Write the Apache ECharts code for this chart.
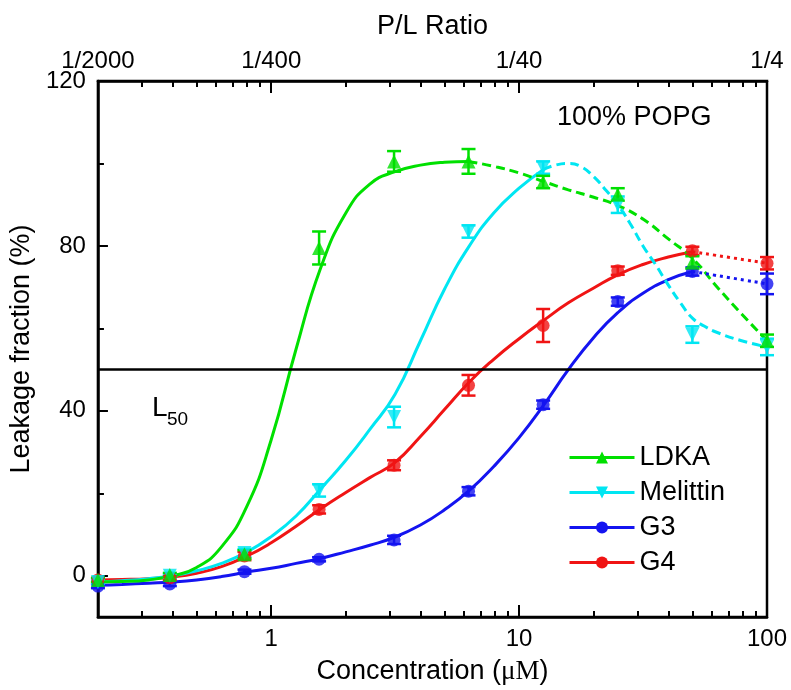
<!DOCTYPE html>
<html><head><meta charset="utf-8">
<script src="https://cdn.jsdelivr.net/npm/echarts@6/dist/echarts.min.js"></script>
<style>html,body{margin:0;padding:0;background:#fff}#c{width:791px;height:690px}</style>
</head><body><div id="c"></div>
<script>
// ---- data ----
const conc = [0.2, 0.39, 0.78, 1.56, 3.13, 6.25, 12.5, 25, 50, 100];

const ldka    = [-1, 0.2, 5.2, 79.5, 100.5, 100.5, 95.5, 92.5, 76, 57];
const ldkaErr = [0.5, 0.5, 1, 4, 2.5, 3, 1.5, 1.5, 1.5, 1.5];
const mel     = [-1.5, 0, 5.5, 20.7, 38.5, 83.5, 99, 90, 58.5, 55.5];
const melErr  = [0.5, 0.5, 1, 1.5, 2.5, 1.5, 1.5, 2, 2, 2];
const g3      = [-2.5, -2, 1, 4, 8.7, 20.5, 41.5, 66.5, 73.8, 70.8];
const g3Err   = [0.5, 0.5, 0.5, 0.5, 1, 1, 1, 1, 1, 2.5];
const g4      = [-1, -0.5, 4.8, 16.1, 26.8, 46.2, 60.7, 74, 78.8, 75.8];
const g4Err   = [0.5, 0.5, 1, 1, 1.2, 2.5, 4, 1, 1, 1.5];

// fitted curves (solid parts)
const ldkaFitX = [0.2, 0.25, 0.32, 0.4, 0.5, 0.63, 0.8, 1.0, 1.26, 1.58, 2.0, 2.5, 3.16, 4.0, 5.0, 6.25];
const ldkaFitY = [-1.5, -1.4, -1.0, 0, 2, 7, 17, 33, 55, 74.5, 88, 95, 98, 99.6, 100.3, 100.5];
const melFitX  = [0.2, 0.25, 0.32, 0.4, 0.5, 0.63, 0.8, 1.0, 1.26, 1.58, 2.0, 2.5, 3.16, 4.0, 5.0, 6.3, 7.9, 10, 12.5];
const melFitY  = [-1.5, -1.2, -0.7, 0, 1.2, 3, 5.8, 9.5, 14.5, 21, 28, 35.5, 44, 57, 69.5, 80, 88, 94, 98.5];
const g3FitX   = [0.2, 0.25, 0.32, 0.4, 0.5, 0.63, 0.8, 1.0, 1.26, 1.58, 2.0, 2.5, 3.16, 4.0, 5.0, 6.3, 7.9, 10, 12.6, 15.8, 20, 25, 31.6, 40, 50];
const g3FitY   = [-2.3, -2.1, -1.8, -1.5, -1.0, -0.2, 0.9, 1.8, 3.0, 4.2, 5.8, 7.4, 9.4, 12.3, 16, 20.7, 26.5, 33.5, 41.5, 50, 57.8, 63.8, 68.5, 71.8, 73.8];
const g4FitX   = [0.2, 0.25, 0.32, 0.4, 0.5, 0.63, 0.8, 1.0, 1.26, 1.58, 2.0, 2.5, 3.16, 4.0, 5.0, 6.3, 7.9, 10, 12.6, 15.8, 20, 25, 31.6, 40, 50];
const g4FitY   = [-1, -0.9, -0.7, -0.3, 0.6, 2.2, 4.8, 8, 12, 16.2, 20.2, 23.8, 27.5, 33.8, 40.3, 47, 52.5, 57.5, 62, 66.2, 69.8, 73, 75.5, 77.3, 78.6];

// descending parts (dashed / dotted)
const ldkaTailX = [6.25, 7.9, 10, 12.6, 15.8, 20, 25, 31.6, 40, 50, 63, 79, 100];
const ldkaTailY = [100.5, 99.3, 97.7, 95.6, 93.6, 91.8, 89.8, 86.5, 81.7, 77, 70, 63.5, 57];
const melTailX  = [12.5, 14, 15.8, 17.8, 20, 22.4, 25, 28, 31.6, 35.5, 40, 45, 50, 56, 63, 79, 100];
const melTailY  = [98.5, 99.6, 100, 99.2, 96.8, 93.5, 90, 85.5, 80, 75.5, 70.5, 66, 62.5, 60.5, 59, 57, 55.5];
const g3TailX   = [50, 100];
const g3TailY   = [73.8, 70.8];
const g4TailX   = [50, 100];
const g4TailY   = [78.6, 75.8];

// axes
const xMajorTicks   = [1, 10, 100];
const xMinorTicks   = [0.3, 0.4, 0.5, 0.6, 0.7, 0.8, 0.9, 2, 3, 4, 5, 6, 7, 8, 9, 20, 30, 40, 50, 60, 70, 80, 90];
const topTickValues = [0.2, 1, 10, 100];
const topTickLabels = ['1/2000', '1/400', '1/40', '1/4'];
const yMajorTicks   = [0, 40, 80, 120];
const yMinorTicks   = [20, 60, 100];
const l50Level      = 50;

// ---- chart ----
const FONT = '"Liberation Sans", Arial, sans-serif';
const C = { ldka: '#00e000', mel: '#00e6f2', g3: '#1414f0', g4: '#f01414' };
const downTri = 'path://M0,0 L10,0 L5,8.66 Z';
const zip = (a, b) => a.map((v, i) => [v, b[i]]);

function errSeries(y, e, color) {
  return {
    type: 'custom', silent: true, z: 3, clip: false,
    data: conc.map((c, i) => [c, y[i] - e[i], y[i] + e[i]]),
    encode: { x: 0, y: [1, 2] },
    renderItem(params, api) {
      const lo = api.coord([api.value(0), api.value(1)]);
      const hi = api.coord([api.value(0), api.value(2)]);
      const hw = 7, st = { stroke: color, lineWidth: 2.5 };
      return { type: 'group', children: [
        { type: 'line', shape: { x1: lo[0], y1: lo[1], x2: hi[0], y2: hi[1] }, style: st },
        { type: 'line', shape: { x1: lo[0] - hw, y1: lo[1], x2: lo[0] + hw, y2: lo[1] }, style: st },
        { type: 'line', shape: { x1: hi[0] - hw, y1: hi[1], x2: hi[0] + hw, y2: hi[1] }, style: st }
      ]};
    }
  };
}
function fitSeries(name, x, y, color, symbol) {
  return { type: 'line', name, data: zip(x, y), smooth: 0.5, showSymbol: false, symbol, symbolSize: 13,
    lineStyle: { color, width: 3 }, itemStyle: { color }, z: 2, silent: true, clip: false };
}
function tailSeries(x, y, color, dash) {
  return { type: 'line', data: zip(x, y), smooth: 0.5, showSymbol: false, symbol: 'none',
    lineStyle: { color, width: 3, type: dash }, z: 2, silent: true, clip: false };
}
function ptSeries(y, color, symbol, size) {
  return { type: 'scatter', data: zip(conc, y), symbol, symbolSize: size, itemStyle: { color }, z: 4, clip: false, silent: true };
}

const chart = echarts.init(document.getElementById('c'), null, { renderer: 'canvas' });
const axisLog = { type: 'log', logBase: 10, min: 0.2, max: 100, splitLine: { show: false } };
const tickStyle = { color: '#000', width: 2 };
chart.setOption({
  animation: false,
  backgroundColor: '#fff',
  grid: { left: 97, right: 24, top: 81, bottom: 70, show: true, borderColor: '#000', borderWidth: 2.5 },
  xAxis: [
    Object.assign({}, axisLog, { position: 'bottom',
      name: 'Concentration ({m|μM})', nameLocation: 'middle', nameGap: 41,
      nameTextStyle: { fontSize: 27, fontFamily: FONT, color: '#000',
        rich: { m: { fontSize: 27, fontFamily: '"Liberation Serif", "DejaVu Serif", serif', color: '#000' } } },
      axisLine: { show: true, onZero: false, lineStyle: { color: '#000', width: 2.5 } },
      axisTick: { show: true, inside: true, length: 12, customValues: xMajorTicks, lineStyle: tickStyle },
      axisLabel: { customValues: xMajorTicks, fontSize: 24, fontFamily: FONT, color: '#000', margin: 10 } }),
    Object.assign({}, axisLog, { position: 'bottom',
      axisLine: { show: false, onZero: false },
      axisTick: { show: true, inside: true, length: 6, customValues: xMinorTicks, lineStyle: tickStyle },
      axisLabel: { show: false } }),
    Object.assign({}, axisLog, { position: 'top',
      name: 'P/L Ratio', nameLocation: 'middle', nameGap: 41,
      nameTextStyle: { fontSize: 27, fontFamily: FONT, color: '#000' },
      axisLine: { show: true, onZero: false, lineStyle: { color: '#000', width: 2.5 } },
      axisTick: { show: true, inside: true, length: 12, customValues: [1, 10], lineStyle: tickStyle },
      axisLabel: { customValues: topTickValues, fontSize: 24, fontFamily: FONT, color: '#000', margin: 8,
        formatter: v => { const i = topTickValues.findIndex(t => Math.abs(t - v) < 1e-6 * Math.max(1, t)); return i >= 0 ? topTickLabels[i] : ''; } } }),
    Object.assign({}, axisLog, { position: 'top',
      axisLine: { show: false, onZero: false },
      axisTick: { show: true, inside: true, length: 6, customValues: xMinorTicks, lineStyle: tickStyle },
      axisLabel: { show: false } })
  ],
  yAxis: [
    { type: 'value', position: 'left', min: -10, max: 120, splitLine: { show: false },
      name: 'Leakage fraction (%)', nameLocation: 'middle', nameGap: 61,
      nameTextStyle: { fontSize: 27, fontFamily: FONT, color: '#000' },
      axisLine: { show: true, onZero: false, lineStyle: { color: '#000', width: 2.5 } },
      axisTick: { show: true, inside: true, length: 10, customValues: yMajorTicks, lineStyle: tickStyle },
      axisLabel: { customValues: yMajorTicks, fontSize: 24, fontFamily: FONT, color: '#000', margin: 12 } },
    { type: 'value', position: 'left', min: -10, max: 120, splitLine: { show: false },
      axisLine: { show: false, onZero: false },
      axisTick: { show: true, inside: true, length: 6, customValues: yMinorTicks, lineStyle: tickStyle },
      axisLabel: { show: false } }
  ],
  legend: {
    data: ['LDKA', 'Melittin', 'G3', 'G4'], orient: 'vertical', left: 563, top: 439,
    itemWidth: 65, itemHeight: 15, itemGap: 8, selectedMode: false,
    lineStyle: { width: 3 },
    textStyle: { fontSize: 27, fontFamily: FONT, color: '#000', lineHeight: 26 }
  },
  graphic: [
    { type: 'text', left: 557, top: 104, style: { text: '100% POPG', font: '27px "Liberation Sans", Arial, sans-serif', fill: '#000' } },
    { type: 'text', left: 152, top: 394, style: { text: 'L', font: '28px "Liberation Sans", Arial, sans-serif', fill: '#000' } },
    { type: 'text', left: 167, top: 410, style: { text: '50', font: '19px "Liberation Sans", Arial, sans-serif', fill: '#000' } }
  ],
  series: [
    Object.assign(fitSeries('G4', g4FitX, g4FitY, C.g4, 'circle'), {
      markLine: { silent: true, symbol: 'none', label: { show: false },
        lineStyle: { color: '#000', width: 2.5, type: 'solid' }, data: [{ yAxis: l50Level }] } }),
    fitSeries('G3', g3FitX, g3FitY, C.g3, 'circle'),
    fitSeries('Melittin', melFitX, melFitY, C.mel, downTri),
    fitSeries('LDKA', ldkaFitX, ldkaFitY, C.ldka, 'triangle'),
    tailSeries(ldkaTailX, ldkaTailY, C.ldka, [9, 5]),
    tailSeries(melTailX, melTailY, C.mel, [9, 5]),
    tailSeries(g3TailX, g3TailY, C.g3, [3, 4]),
    tailSeries(g4TailX, g4TailY, C.g4, [3, 4]),
    errSeries(g3, g3Err, C.g3),
    errSeries(g4, g4Err, C.g4),
    errSeries(mel, melErr, C.mel),
    errSeries(ldka, ldkaErr, C.ldka),
    ptSeries(g3, C.g3, 'circle', 13),
    ptSeries(g4, C.g4, 'circle', 13),
    ptSeries(mel, C.mel, downTri, 14),
    ptSeries(ldka, C.ldka, 'triangle', 14)
  ]
});
</script></body></html>
